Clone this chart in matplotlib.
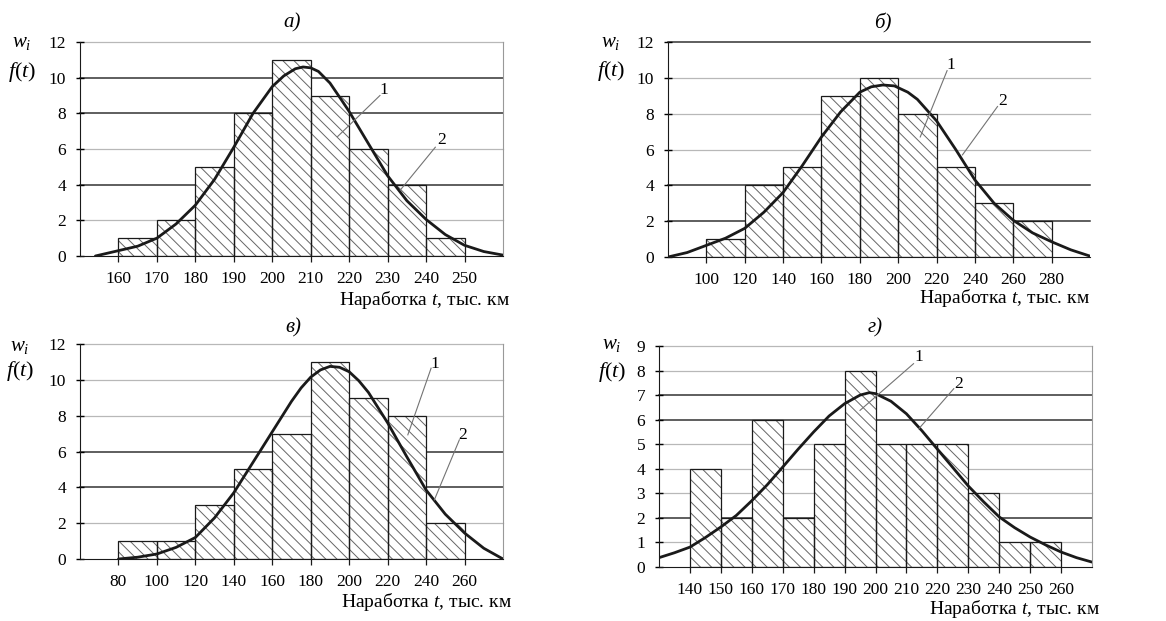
import matplotlib
matplotlib.use("Agg")
import matplotlib.pyplot as plt

plt.rcParams['font.family'] = ['Liberation Serif', 'DejaVu Serif']
plt.rcParams['mathtext.fontset'] = 'custom'
plt.rcParams['mathtext.rm'] = 'Liberation Serif'
plt.rcParams['mathtext.it'] = 'Liberation Serif:italic'
plt.rcParams['hatch.linewidth'] = 0.7

# panel а
a_edges = [160, 170, 180, 190, 200, 210, 220, 230, 240, 250]
a_counts = [1, 2, 5, 8, 11, 9, 6, 4, 1]
a_curve_t = [154, 160, 165, 170, 175, 180, 185, 190, 195, 200, 203, 206, 208, 210, 212,
             215, 218, 220, 225, 230, 235, 240, 245, 250, 255, 260]
a_curve_f = [0.0, 0.3, 0.55, 1.0, 1.8, 2.85, 4.3, 6.1, 8.0, 9.5, 10.1, 10.5, 10.6, 10.55, 10.35,
             9.7, 8.75, 8.1, 6.3, 4.5, 3.1, 2.05, 1.2, 0.6, 0.25, 0.05]
a_xticks = [160, 170, 180, 190, 200, 210, 220, 230, 240, 250]

# panel б
b_edges = [100, 120, 140, 160, 180, 200, 220, 240, 260, 280]
b_counts = [1, 4, 5, 9, 10, 8, 5, 3, 2]
b_curve_t = [80, 90, 100, 110, 120, 130, 140, 150, 160, 170, 180, 186, 192, 198, 205,
             210, 220, 230, 240, 250, 260, 270, 280, 290, 300]
b_curve_f = [0.0, 0.25, 0.65, 1.05, 1.6, 2.5, 3.6, 5.1, 6.7, 8.1, 9.2, 9.5, 9.6, 9.55, 9.2,
             8.8, 7.6, 6.0, 4.3, 3.0, 2.05, 1.35, 0.85, 0.4, 0.05]
b_xticks = [100, 120, 140, 160, 180, 200, 220, 240, 260, 280]

# panel в
c_edges = [80, 100, 120, 140, 160, 180, 200, 220, 240, 260]
c_counts = [1, 1, 3, 5, 7, 11, 9, 8, 2]
c_curve_t = [80, 90, 100, 110, 120, 130, 140, 150, 160, 170, 175, 180, 185, 190, 195,
             200, 205, 210, 220, 230, 240, 250, 260, 270, 280]
c_curve_f = [0.0, 0.1, 0.28, 0.65, 1.2, 2.3, 3.7, 5.4, 7.1, 8.8, 9.55, 10.15, 10.55, 10.75, 10.7,
             10.45, 9.95, 9.3, 7.6, 5.7, 3.85, 2.5, 1.45, 0.6, 0.0]
c_xticks = [80, 100, 120, 140, 160, 180, 200, 220, 240, 260]

# panel г
d_edges = [140, 150, 160, 170, 180, 190, 200, 210, 220, 230, 240, 250, 260]
d_counts = [4, 2, 6, 2, 5, 8, 5, 5, 5, 3, 1, 1]
d_curve_t = [130, 135, 140, 145, 150, 155, 160, 165, 170, 175, 180, 185, 190, 195, 198,
             200, 205, 210, 215, 220, 225, 230, 235, 240, 245, 250, 255, 260, 265, 270]
d_curve_f = [0.38, 0.58, 0.81, 1.2, 1.63, 2.1, 2.7, 3.35, 4.07, 4.8, 5.5, 6.15, 6.65, 7.0, 7.1,
             7.06, 6.75, 6.24, 5.55, 4.8, 4.05, 3.3, 2.65, 2.04, 1.6, 1.22, 0.9, 0.61, 0.38, 0.2]
d_xticks = [140, 150, 160, 170, 180, 190, 200, 210, 220, 230, 240, 250, 260]

xlabel = 'Наработка $t$, тыс. км'

W, H = 1166, 621


def px(x, y):
    return x / W, 1 - y / H


def make_axes(fig, left, top, right, bottom):
    return fig.add_axes([left / W, 1 - bottom / H, (right - left) / W, (bottom - top) / H])


def draw_panel(ax, edges, counts, curve_t, curve_f, xlim, ymax, xticks, grid_dark,
               right_border, lab1, lab2):
    yticks = list(range(0, ymax + 1, 2 if ymax > 10 else 1))
    for yv in yticks[1:]:
        ax.axhline(yv, color='0.2' if yv in grid_dark else '0.72',
                   lw=1.1 if yv in grid_dark else 0.9, zorder=0, clip_on=False)

    widths = [edges[i + 1] - edges[i] for i in range(len(counts))]
    # hatch in grey, outline in black on top
    ax.bar(edges[:-1], counts, width=widths, align='edge', color='white',
           edgecolor='0.4', lw=0, hatch='\\\\\\', zorder=2)
    ax.bar(edges[:-1], counts, width=widths, align='edge', fill=False,
           edgecolor='0.1', lw=0.9, zorder=3)

    ax.plot(curve_t, curve_f, color='0.1', lw=2.0, zorder=4, solid_capstyle='round')

    for num, (tx, ty, x0, y0, x1, y1) in zip(['1', '2'], [lab1, lab2]):
        ax.text(tx, ty, num, fontsize=12.5, ha='center', va='center', zorder=5)
        ax.plot([x0, x1], [y0, y1], color='0.45', lw=0.8, zorder=5)

    ax.set_xlim(*xlim)
    ax.set_ylim(0, ymax)
    ax.set_xticks(xticks)
    ax.set_yticks(yticks)
    ax.tick_params(axis='x', direction='out', length=4, width=0.9, color='0.1',
                   pad=7, labelsize=12.5)
    ax.tick_params(axis='y', direction='inout', length=6, width=1, pad=7, labelsize=12.5)
    ax.spines['top'].set_visible(False)
    ax.spines['left'].set_color('0.1')
    ax.spines['bottom'].set_color('0.1')
    if right_border:
        ax.spines['right'].set_color('0.6')
        ax.spines['right'].set_linewidth(0.8)
    else:
        ax.spines['right'].set_visible(False)


fig = plt.figure(figsize=(W / 100, H / 100), dpi=100)

ax_a = make_axes(fig, 80, 42, 503, 256)
draw_panel(ax_a, a_edges, a_counts, a_curve_t, a_curve_f, (150, 260), 12, a_xticks,
           [4, 8, 10], True,
           (229, 9.3, 228, 9.0, 217, 6.7), (244, 6.5, 242.4, 6.1, 233.3, 3.7))

ax_b = make_axes(fig, 668, 42, 1090, 257)
draw_panel(ax_b, b_edges, b_counts, b_curve_t, b_curve_f, (80, 300), 12, b_xticks,
           [2, 4, 12], False,
           (227.5, 10.7, 225.5, 10.4, 211.5, 6.7), (254.5, 8.7, 251.8, 8.4, 233.5, 5.7))

ax_c = make_axes(fig, 80, 344, 503, 559)
draw_panel(ax_c, c_edges, c_counts, c_curve_t, c_curve_f, (60, 280), 12, c_xticks,
           [4, 6], True,
           (244.5, 10.9, 242.6, 10.65, 230.5, 6.93), (259, 6.93, 257.3, 6.65, 244.3, 3.3))

ax_d = make_axes(fig, 659, 346, 1092, 567)
draw_panel(ax_d, d_edges, d_counts, d_curve_t, d_curve_f, (130, 270), 9, d_xticks,
           [2, 6, 7], True,
           (214, 8.55, 212.3, 8.28, 195, 6.38), (227, 7.47, 225.3, 7.26, 214, 5.63))

# titles
for (x, y), t in zip([(292, 23), (883, 23), (293, 328), (875, 328)], ['а)', 'б)', 'в)', 'г)']):
    fig.text(*px(x, y), t, fontsize=15, style='italic', ha='center', va='center')

# y labels
for (x, y1, y2) in [(22, 42, 72), (611, 42, 71), (20, 347, 371), (612, 345, 372)]:
    fig.text(*px(x, y1), '$w_i$', fontsize=15, ha='center', va='center')
    fig.text(*px(x, y2), '$f(t)$', fontsize=16, ha='center', va='center')

# x labels
for (x, y) in [(510, 300), (1090, 298), (512, 602), (1100, 609)]:
    fig.text(*px(x, y), xlabel, fontsize=14, ha='right', va='center')

fig.savefig('out.png', dpi=100)
